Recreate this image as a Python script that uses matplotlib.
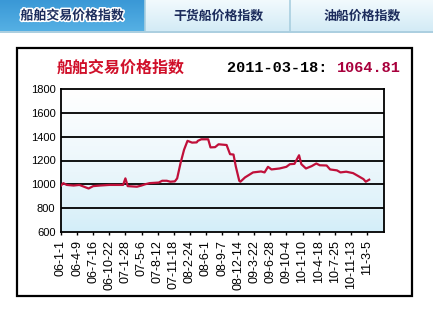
import numpy as np
import matplotlib
matplotlib.use("Agg")
import matplotlib.pyplot as plt
import matplotlib.patheffects as pe
from matplotlib.colors import LinearSegmentedColormap
from matplotlib.patches import Rectangle

# --- dati ---
tab_nomi = ["船舶交易价格指数", "干货船价格指数", "油船价格指数"]
titolo = "船舶交易价格指数"
data_ultima = "2011-03-18: "
valore_ultimo = "1064.81"

etichette_x = ["06-1-1", "06-4-9", "06-7-16", "06-10-22", "07-1-28", "07-5-6",
               "07-8-12", "07-11-18", "08-2-24", "08-6-1", "08-9-7", "08-12-14",
               "09-3-22", "09-6-28", "09-10-4", "10-1-10", "10-4-18", "10-7-25",
               "10-11-13", "11-3-5"]
settimane_per_etichetta = 14

settimane = [0, 2, 5, 11, 16, 24, 28, 34, 42, 54,
             56, 58, 66, 70, 73, 77, 85, 88, 92, 95,
             99, 101, 104, 107, 110, 114, 118, 119, 122, 128,
             130, 134, 137, 144, 147, 150, 152, 155, 156, 160,
             167, 174, 177, 180, 183, 190, 196, 199, 203, 207,
             209, 213, 218, 222, 225, 231, 234, 240, 243, 248,
             254, 258, 263, 265, 268]
indice = [990, 1010, 995, 990, 995, 965, 985, 990, 995, 995,
          1050, 985, 980, 990, 1000, 1010, 1015, 1030, 1030, 1022,
          1025, 1050, 1180, 1290, 1365, 1350, 1352, 1365, 1378, 1378,
          1310, 1312, 1336, 1330, 1253, 1250, 1150, 1030, 1022, 1058,
          1100, 1108, 1100, 1147, 1125, 1133, 1147, 1169, 1172, 1244,
          1169, 1133, 1153, 1175, 1160, 1158, 1125, 1117, 1100, 1106,
          1094, 1072, 1044, 1022, 1039]
y_ticks = [600, 800, 1000, 1200, 1400, 1600, 1800]

CJK = ["Noto Sans CJK SC", "DejaVu Sans"]
W, H = 433, 313

fig = plt.figure(figsize=(W / 100, H / 100), dpi=100)

# --- sfondo: schede in alto e cornice (coordinate in pixel) ---
bg = fig.add_axes([0, 0, 1, 1])
bg.set_xlim(0, W)
bg.set_ylim(H, 0)
bg.axis("off")

grad = np.linspace(0, 1, 64).reshape(-1, 1)
blu_tab = LinearSegmentedColormap.from_list("blu", ["#3a98d6", "#55b0e4"])
chiaro_tab = LinearSegmentedColormap.from_list("chiaro", ["#f2fafd", "#d3ebf6"])
bg.imshow(grad, cmap=blu_tab, extent=[0, 145, 31, 0], aspect="auto", zorder=1)
bg.imshow(grad, cmap=chiaro_tab, extent=[145, W, 31, 0], aspect="auto", zorder=1)
bg.plot([0, W], [31.5, 31.5], color="#9cc6da", lw=1.2, zorder=2)
for xs in [145, 290]:
    bg.plot([xs, xs], [0, 31], color="#a9cfe0", lw=1.2, zorder=2)

centri_tab = [72, 218, 362]
for i, (nome, cx) in enumerate(zip(tab_nomi, centri_tab)):
    t = bg.text(cx, 15.5, nome, ha="center", va="center", fontsize=9.3,
                fontweight="bold", color="#1c2c5c", family=CJK, zorder=3)
    if i == 0:
        t.set_path_effects([pe.withStroke(linewidth=2.2, foreground="white")])

bg.add_patch(Rectangle((17, 48), 395, 248, fill=False, ec="black", lw=1.6, zorder=2))

bg.text(57, 68, titolo, ha="left", va="center", fontsize=11.5,
        fontweight="bold", color="#d0102a", family=CJK, zorder=3)
bg.text(227, 68, data_ultima, ha="left", va="center", fontsize=11,
        fontweight="bold", color="black", family="Liberation Mono", zorder=3)
bg.text(337, 68, valore_ultimo, ha="left", va="center", fontsize=11,
        fontweight="bold", color="#a8003c", family="Liberation Mono", zorder=3)

# --- grafico principale ---
left, right, top, bottom = 61, 384, 89, 232
ax = fig.add_axes([left / W, 1 - bottom / H, (right - left) / W, (bottom - top) / H])

sfondo = LinearSegmentedColormap.from_list("sf", ["#d3eef9", "#eaf6fb", "#ffffff"])
ax.imshow(grad[::-1] ** 0.8, cmap=sfondo, extent=[0, 1, 0, 1], aspect="auto",
          transform=ax.transAxes, zorder=0)

for yv in y_ticks[1:-1]:
    ax.axhline(yv, color="black", lw=1.3, zorder=1)

ax.plot(settimane, indice, color="#c0103a", lw=1.6, zorder=3)

ax.set_xlim(0, (right - left) / 1.15)
ax.set_ylim(600, 1800)
ax.set_yticks(y_ticks)
ax.set_yticklabels([str(v) for v in y_ticks], fontsize=8, family="Liberation Sans")
ax.set_xticks([i * settimane_per_etichetta for i in range(len(etichette_x))])
ax.set_xticklabels(etichette_x, rotation=90, fontsize=9, family="Liberation Sans")
ax.tick_params(axis="y", length=0, pad=4)
ax.tick_params(axis="x", length=2.5, width=1, pad=3, direction="out")
for s in ax.spines.values():
    s.set_linewidth(1.3)
    s.set_color("black")

plt.savefig("out.png", dpi=100)
